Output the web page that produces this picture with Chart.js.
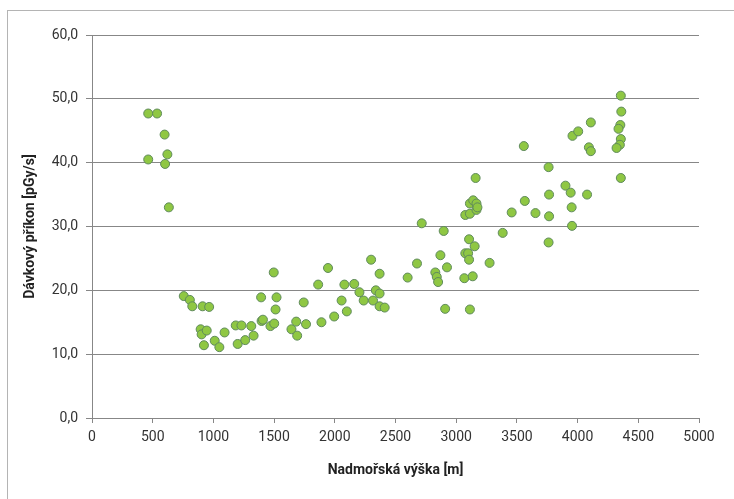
<!DOCTYPE html>
<html>
<head>
<meta charset="utf-8">
<script src="https://cdn.jsdelivr.net/npm/chart.js@4"></script>
<style>
    html, body { margin: 0; padding: 0; background: #fff; }
    #wrap { position: relative; width: 734px; height: 499px; overflow: hidden; }
    #frame { position: absolute; left: 7px; top: 10px; width: 740px; height: 500px;
             border-left: 1px solid #b4b4b4; border-top: 1px solid #b4b4b4; }
    canvas { position: absolute; left: 0; top: 0; }
</style>
</head>
<body>
<div id="wrap">
    <div id="frame"></div>
    <canvas id="dose-chart" width="734" height="499"></canvas>
</div>
<script>
// nadmořská výška [m] a dávkový příkon [pGy/s]
const altitude = [
    463, 536, 598, 463, 621, 602, 633,
    756, 806, 826, 911, 965, 895, 903, 945, 922, 1011, 1049, 1092,
    1184, 1231, 1200, 1262, 1312, 1331, 1393, 1397, 1408, 1470, 1501,
    1497, 1520, 1512, 1643, 1682, 1690, 1744, 1763, 1863, 1890,
    1944, 1995, 2056, 2079, 2099, 2160, 2203, 2238, 2299, 2315,
    2338, 2369, 2369, 2369, 2411, 2600, 2677, 2716, 2828, 2840,
    2851, 2870, 2897, 2909, 2924, 3067, 3075, 3075, 3098, 3106,
    3106, 3113, 3113, 3113, 3136, 3152, 3140, 3160, 3167, 3167,
    3175, 3275, 3383, 3457, 3557, 3565, 3653, 3761, 3765, 3765,
    3761, 3900, 3943, 3951, 3954, 3958, 4005, 4078, 4093, 4109,
    4109, 4356, 4360, 4352, 4337, 4356, 4348, 4321, 4356
];
const doseRate = [
    47.7, 47.7, 44.4, 40.5, 41.3, 39.8, 33.0,
    19.1, 18.5, 17.5, 17.5, 17.4, 13.9, 13.1, 13.7, 11.4, 12.1, 11.1, 13.4,
    14.5, 14.5, 11.6, 12.2, 14.4, 12.9, 18.9, 15.2, 15.4, 14.4, 14.8,
    22.8, 18.9, 17.0, 13.9, 15.1, 12.9, 18.1, 14.7, 20.9, 15.0,
    23.5, 15.9, 18.4, 20.9, 16.7, 21.0, 19.7, 18.4, 24.8, 18.4,
    20.0, 22.6, 19.5, 17.5, 17.3, 22.0, 24.2, 30.5, 22.8, 22.1,
    21.3, 25.5, 29.3, 17.1, 23.6, 21.9, 25.8, 31.8, 25.8, 24.8,
    28.0, 32.0, 33.6, 17.0, 22.2, 26.9, 34.1, 37.6, 33.6, 32.6,
    33.0, 24.3, 29.0, 32.2, 42.6, 34.0, 32.1, 39.3, 35.0, 31.6,
    27.5, 36.4, 35.3, 33.0, 30.1, 44.2, 44.9, 35.0, 42.4, 41.8,
    46.3, 50.5, 48.0, 45.9, 45.3, 43.7, 42.8, 42.3, 37.6
];

const xMin = 0, xMax = 5000, xStep = 500;
const yMin = 0, yMax = 60, yStep = 10;
const xTitle = 'Nadmořská výška [m]';
const yTitle = 'Dávkový příkon [pGy/s]';

const axisFont = { family: 'Roboto', size: 14 };
const titleFont = { family: 'Roboto', size: 14, weight: 'bold' };
const lineColor = '#878787';

const points = altitude.map((x, i) => ({ x: x, y: doseRate[i] }));

const ctx = document.getElementById('dose-chart').getContext('2d');
const doseChart = new Chart(ctx, {
    type: 'scatter',
    data: {
        datasets: [{
            data: points,
            pointRadius: 4.5,
            pointHoverRadius: 4.5,
            pointBackgroundColor: '#8fc743',
            pointBorderColor: '#5f8a5c',
            pointBorderWidth: 1
        }]
    },
    options: {
        responsive: false,
        animation: false,
        layout: { padding: { left: 0, top: 35, right: 35, bottom: 0 } },
        plugins: {
            legend: { display: false },
            tooltip: { enabled: false }
        },
        scales: {
            x: {
                type: 'linear',
                min: xMin,
                max: xMax,
                afterFit: scale => { scale.height = 81; },
                ticks: {
                    stepSize: xStep,
                    color: '#333',
                    font: axisFont,
                    padding: 6,
                    maxRotation: 0,
                    callback: v => String(v)
                },
                grid: {
                    drawOnChartArea: false,
                    drawTicks: true,
                    tickLength: 5,
                    color: lineColor
                },
                border: { color: lineColor, width: 1 },
                title: {
                    display: true,
                    text: xTitle,
                    color: '#222',
                    font: titleFont,
                    padding: { top: 20, bottom: 20 }
                }
            },
            y: {
                type: 'linear',
                min: yMin,
                max: yMax,
                afterFit: scale => { scale.width = 92; },
                ticks: {
                    stepSize: yStep,
                    color: '#333',
                    font: axisFont,
                    padding: 8,
                    callback: v => v.toFixed(1).replace('.', ',')
                },
                grid: {
                    color: lineColor,
                    tickLength: 6
                },
                border: { color: lineColor, width: 1 },
                title: {
                    display: true,
                    text: yTitle,
                    color: '#222',
                    font: titleFont,
                    padding: { top: 22, bottom: 22 }
                }
            }
        }
    }
});
</script>
</body>
</html>
